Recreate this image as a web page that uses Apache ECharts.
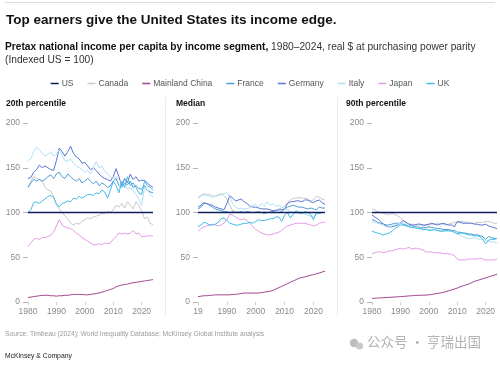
<!DOCTYPE html>
<html>
<head>
<meta charset="utf-8">
<script src="https://cdn.jsdelivr.net/npm/echarts@6/dist/echarts.min.js"></script>
<style>
html,body{margin:0;padding:0;background:#fff;}
#chart{width:500px;height:369px;}
</style>
</head>
<body>
<div id="chart"></div>
<script>
// ---------- DATA ----------
const years = [1980,1981,1982,1983,1984,1985,1986,1987,1988,1989,1990,1991,1992,1993,1994,1995,1996,1997,1998,1999,2000,2001,2002,2003,2004,2005,2006,2007,2008,2009,2010,2011,2012,2013,2014,2015,2016,2017,2018,2019,2020,2021,2022,2023,2024];
const countries = ['US','Canada','Mainland China','France','Germany','Italy','Japan','UK'];
const panelTitles = ['20th percentile','Median','90th percentile'];
const xTicks20 = ['1980','1990','2000','2010','2020'];
const xTicksMed = ['19','1990','2000','2010','2020'];
const xTicks90 = ['1980','1990','2000','2010','2020'];
const yTicks = ['0','50','100','150','200'];

const usIndex = [100,100,100,100,100,100,100,100,100,100,100,100,100,100,100,100,100,100,100,100,100,100,100,100,100,100,100,100,100,100,100,100,100,100,100,100,100,100,100,100,100,100,100,100,100];

// 20th percentile
const p20_canada = [128,135,140,138,137,135,128,125,124,118,108,104,100,96,93,88,86,88,87,90,92,94,93,95,96,97,99,99,101,100,103,108,106,110,105,112,108,104,112,108,102,93,95,88,86];
const p20_china = [5,5.5,6,6.5,7,7.5,7.5,7.5,7,7,6.5,7,7,7.5,7.5,8,8.5,8.5,8.5,8.5,8,8,8.5,9,9.5,10,11,12,13,14,15,17,18,19,19.5,20,21,21.5,22,22.5,23,23.5,24,24.5,25];
const p20_france = [128,133,137,135,137,135,137,140,142,138,143,145,140,138,143,140,137,135,138,133,135,138,135,132,135,130,133,131,128,130,135,138,130,128,133,131,135,128,130,127,126,130,125,123,122];
const p20_germany = [138,139,145,148,153,150,152,150,148,147,158,172,168,163,168,174,166,162,160,155,156,152,148,150,147,143,140,138,137,135,140,149,140,130,138,133,143,137,140,135,136,136,133,130,128];
const p20_italy = [158,160,168,173,170,166,163,165,168,163,165,170,164,158,157,160,155,152,150,148,145,147,143,150,157,150,152,146,143,140,138,140,136,134,130,126,128,124,120,115,108,128,126,120,117];
const p20_japan = [62,66,70,71,70,72,72,73,75,78,85,92,86,84,83,82,80,77,75,72,70,68,66,64,64,65,64,66,65,66,70,73,77,76,77,76,77,80,76,77,73,73,74,74,74];
const p20_uk = [100,103,111,112,110,113,115,118,119,117,110,106,110,111,113,112,116,115,118,116,118,120,120,119,122,121,125,123,116,125,135,130,122,135,128,140,130,133,128,122,120,135,130,128,125];

// Median
const pm_canada = [117,119,121,120,120,119,118,120,121,119,115,108,102,101,101,101,100,101,101,100,101,101,100,101,100,101,102,103,104,105,107,111,114,116,116,117,116,116,115,113,114,118,117,115,114];
const pm_china = [6,6.5,7,7,7.5,7.5,8,8,8,8,8,8,8.5,8.5,9,9.5,10,10,10,10,10,10,10.5,11,11.5,12,13,14.5,16,17.5,19,20.5,22,23.5,25,26.5,27.5,28,29,30,30.5,31.5,32.5,33.5,34.5];
const pm_france = [104,106,110,110,108,106,104,103,102,101,101,100,101,100,100,101,100,101,100,100,100,101,100,99,100,100,101,100,100,101,104,106,107,108,107,106,106,105,104,105,104,103,106,105,105];
const pm_germany = [106,108,111,110,109,108,106,105,104,103,110,119,116,113,114,115,112,110,107,106,106,105,104,104,104,103,102,102,103,103,104,110,112,112,113,113,112,114,114,112,111,113,114,111,109];
const pm_italy = [116,118,120,119,118,117,118,119,120,121,122,118,110,106,104,105,104,104,106,108,109,106,110,107,112,108,110,107,108,106,104,103,101,100,100,99,99,98,97,96,95,98,99,100,100];
const pm_japan = [79,82,84,85,86,87,86,85,86,88,92,98,97,95,93,92,93,91,88,84,81,79,77,76,75,75,76,77,78,80,83,85,86,87,88,88,88,88,87,86,85,86,88,89,89];
const pm_uk = [84,86,89,88,86,86,87,89,93,94,91,88,87,86,86,87,88,88,89,88,90,92,91,91,92,93,93,95,95,90,97,100,94,98,102,100,99,101,100,98,92,100,99,100,100];

// 90th percentile
const p90_canada = [104,103,101,100,99,98,98,99,98,96,94,91,89,87,87,86,86,86,85,86,86,87,87,88,88,87,86,87,88,89,89,90,90,89,89,88,88,89,89,89,90,90,89,88,88];
const p90_china = [4,4.2,4.4,4.6,4.8,5,5.2,5.4,5.6,5.8,6,6.2,6.5,6.8,7,7.2,7.4,7.5,7.6,7.8,8,8.5,9,9.5,10,10.8,11.5,12.5,13.5,14.5,15.5,17,18,19,20,21.5,23,24,25,26,27,28,29,30,31];
const p90_france = [92,91,89,88,87,86,86,87,88,88,88,87,86,85,85,84,84,83,83,83,84,83,83,82,82,81,81,81,80,80,78,78,77,77,76,76,75,75,74,73,70,73,72,71,71];
const p90_germany = [97,95,93,90,87,85,84,84,85,86,88,91,89,87,86,86,87,87,86,86,87,88,87,86,87,88,87,86,86,84,90,89,88,88,88,88,87,87,86,86,87,85,84,83,82];
const p90_italy = [90,89,88,87,86,84,84,85,86,87,88,88,87,85,84,83,83,82,82,81,81,81,80,80,80,80,79,79,79,78,76,75,73,72,71,71,72,71,70,70,69,68,67,67,66];
const p90_japan = [54,55,56,56,55,56,57,57,58,59,60,59,60,61,59,60,60,59,58,56,56,56,55,55,55,54,54,54,53,52,48,47,47,47,48,48,48,48,49,48,47,47,47,47,48];
const p90_uk = [79,78,77,76,75,76,77,79,82,84,86,86,85,84,83,83,82,82,81,81,80,80,81,80,79,79,80,80,79,78,76,77,77,76,75,75,74,74,73,70,65,69,70,70,71];

// ---------- BUILD ----------
const colors = {
  'US':'#0c1e5e','Canada':'#c8c8c8','Mainland China':'#a4468e','France':'#4f9dd0',
  'Germany':'#5a74d6','Italy':'#ade2f5','Japan':'#e49ce4','UK':'#3fbbe7'
};
const panelData = [
  {'US':usIndex,'Canada':p20_canada,'Mainland China':p20_china,'France':p20_france,'Germany':p20_germany,'Italy':p20_italy,'Japan':p20_japan,'UK':p20_uk},
  {'US':usIndex,'Canada':pm_canada,'Mainland China':pm_china,'France':pm_france,'Germany':pm_germany,'Italy':pm_italy,'Japan':pm_japan,'UK':pm_uk},
  {'US':usIndex,'Canada':p90_canada,'Mainland China':p90_china,'France':p90_france,'Germany':p90_germany,'Italy':p90_italy,'Japan':p90_japan,'UK':p90_uk}
];
const xTickSets = [xTicks20, xTicksMed, xTicks90];
const gridLefts = [28, 198, 372];
const gridWidths = [125, 127, 125];
const titleLefts = [6, 176, 346];
const FONT = '"Liberation Sans", Arial, sans-serif';

const grids = [], xAxes = [], yAxes = [], series = [];
const drawOrder = ['Canada','Mainland China','France','Germany','Italy','Japan','UK','US'];
for (let p = 0; p < 3; p++) {
  grids.push({left: gridLefts[p], top: 123, width: gridWidths[p], height: 179});
  const tk = xTickSets[p];
  xAxes.push({
    type:'value', gridIndex:p, min:1980, max:2024, interval:10,
    axisLine:{show:false},
    axisTick:{show:true, length:3, lineStyle:{color:'#cfcfcf', width:1}},
    splitLine:{show:false},
    axisLabel:{color:'#8a8a8a', fontSize:8.5, fontFamily:FONT, margin:5,
      showMaxLabel:false,
      formatter: function(v){ const i = Math.round((v-1980)/10); return tk[i] !== undefined ? tk[i] : ''; }}
  });
  yAxes.push({
    type:'value', gridIndex:p, min:0, max:200, interval:50,
    axisLine:{show:false},
    axisTick:{show:true, length:5, lineStyle:{color:'#b5b5b5', width:1}},
    splitLine:{show:false},
    axisLabel:{color:'#8a8a8a', fontSize:8.5, fontFamily:FONT, margin:8,
      formatter: function(v){ return yTicks[Math.round(v/50)]; }}
  });
  drawOrder.forEach((c, k) => {
    const vals = panelData[p][c];
    series.push({
      name:c, type:'line', xAxisIndex:p, yAxisIndex:p,
      data: years.map((y,i)=>[y, vals[i]]),
      showSymbol:false, symbol:'none', silent:true,
      z: c==='US' ? 10 : 2 + k,
      lineStyle:{color:colors[c], width: c==='US' ? 1.6 : 1},
      itemStyle:{color:colors[c]}
    });
  });
}

const titles = [
  {text:'Top earners give the United States its income edge.', left:6, top:13, padding:0,
   textStyle:{fontSize:13.5, fontWeight:'bold', color:'#111', fontFamily:FONT}},
  {text:'{b|Pretax national income per capita by income segment,}{r| 1980–2024, real $ at purchasing power parity}\n{r|(Indexed US = 100)}',
   left:5, top:41, padding:0,
   textStyle:{fontFamily:FONT, fontWeight:'normal', rich:{
     b:{fontSize:10.2, fontWeight:'bold', color:'#111', fontFamily:FONT, lineHeight:13},
     r:{fontSize:10.2, fontWeight:'normal', color:'#333', fontFamily:FONT, lineHeight:13}}}}
];
for (let p = 0; p < 3; p++) {
  titles.push({text:panelTitles[p], left:titleLefts[p], top:99, padding:0,
    textStyle:{fontSize:8.5, fontWeight:'bold', color:'#111', fontFamily:FONT}});
}

const option = {
  backgroundColor:'#fff',
  animation:false,
  title: titles,
  legend:{
    data: countries, top:74, left:'center', icon:'rect', itemWidth:8, itemHeight:1.5,
    itemGap:14, selectedMode:false,
    textStyle:{fontSize:8.5, color:'#555', fontFamily:FONT, padding:[0,0,0,-2]}
  },
  grid: grids, xAxis: xAxes, yAxis: yAxes, series: series,
  graphic: [
    {type:'line', shape:{x1:5, y1:2.5, x2:495, y2:2.5}, style:{stroke:'#dcdcdc', lineWidth:1}},
    {type:'line', shape:{x1:165.5, y1:97, x2:165.5, y2:316}, style:{stroke:'#ececec', lineWidth:1}},
    {type:'line', shape:{x1:337.5, y1:97, x2:337.5, y2:316}, style:{stroke:'#ececec', lineWidth:1}},
    {type:'text', left:5, top:331, style:{text:'Source: Timbeau (2024); World Inequality Database; McKinsey Global Institute analysis', fontSize:6.7, fill:'#9a9a9a', fontFamily:FONT}},
    {type:'text', left:5, top:353, style:{text:'McKinsey & Company', fontSize:6.8, fill:'#222', fontFamily:FONT}},
    {type:'circle', shape:{cx:354, cy:343, r:4.2}, style:{fill:'#bdbdbd'}},
    {type:'circle', shape:{cx:359.5, cy:346, r:3.6}, style:{fill:'#c8c8c8'}},
    {type:'text', left:367, top:335, style:{text:'公众号 · 亨瑞出国', fontSize:13.5, fill:'#b3b3b3', fontFamily:'"Noto Sans CJK SC", sans-serif'}}
  ]
};
const chart = echarts.init(document.getElementById('chart'), null, {renderer:'canvas'});
chart.setOption(option);
</script>
</body>
</html>
